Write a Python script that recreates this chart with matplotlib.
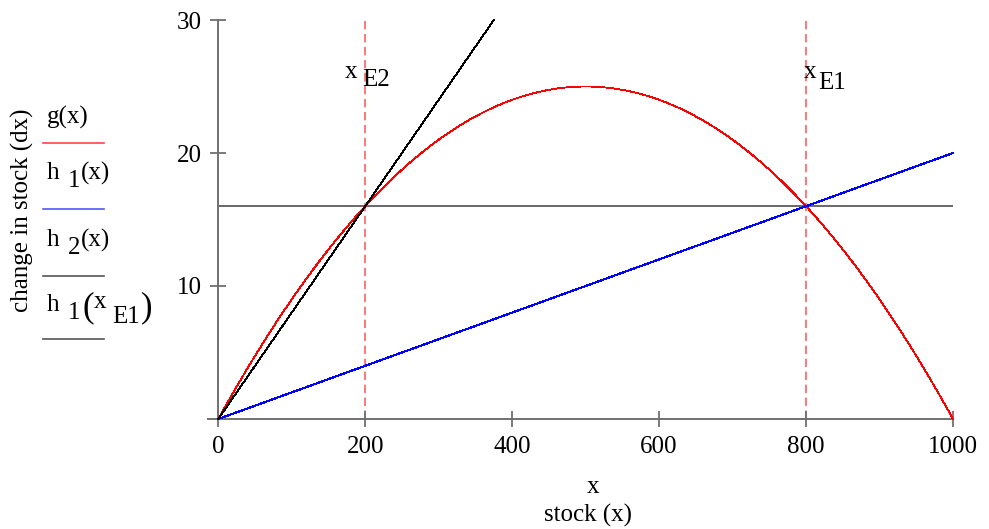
import numpy as np
import matplotlib
matplotlib.use("Agg")
import matplotlib.pyplot as plt

plt.rcParams["font.family"] = ["Liberation Serif", "DejaVu Serif"]

# Logistic growth g(x) = r*x*(1 - x/K) and proportional harvest h(x) = q*x
growth_rate = 0.1
capacity = 1000
harvest_rates = [0.02, 0.08]          # h1, h2
equilibria = [800, 200]               # x_E1, x_E2
x_ticks = [0, 200, 400, 600, 800, 1000]
y_ticks = [10, 20, 30]
y_top = 30

AXIS_GRAY = "#707070"
FS = 18

fig = plt.figure(figsize=(9.89, 5.29), dpi=100)
W, H = 989, 529
left_px, right_px, bot_px, top_px = 208, 953, 419, 20
ax = fig.add_axes([left_px / W, 1 - bot_px / H,
                   (right_px - left_px) / W, (bot_px - top_px) / H])
ax.set_xlim(-14, capacity)
ax.set_ylim(0, y_top)

x = np.linspace(0, capacity, 1001)
g = growth_rate * x * (1 - x / capacity)
h1 = harvest_rates[0] * x
x2 = np.linspace(0, y_top / harvest_rates[1], 400)
h2 = harvest_rates[1] * x2
h1_e1 = harvest_rates[0] * equilibria[0]

ax.plot(x, g, color="#ff0000", lw=0.6, antialiased=False, clip_on=False, zorder=3)
ax.plot(x, h1, color="#0000ff", lw=0.8, antialiased=False, clip_on=False, zorder=3)
ax.plot(x2, h2, color="#000000", lw=0.6, antialiased=False, clip_on=False, zorder=3)
ax.plot([0, capacity], [h1_e1, h1_e1], color="#404040", lw=1.1, zorder=2)

for xe in equilibria:
    ax.plot([xe, xe], [0, y_top], color="#ff5555", lw=1.1,
            dashes=(5.5, 3), zorder=1)

# axes in the Mathcad style: crossing ticks, gray lines
for s in ["top", "right"]:
    ax.spines[s].set_visible(False)
ax.spines["left"].set_position(("data", 0))
ax.spines["left"].set_bounds(0, y_top)
for s in ["left", "bottom"]:
    ax.spines[s].set_color(AXIS_GRAY)
    ax.spines[s].set_linewidth(1.4)
ax.set_xticks(x_ticks)
ax.set_yticks(y_ticks)
ax.tick_params(axis="both", direction="inout", length=12, width=1.3,
               color=AXIS_GRAY, labelsize=FS)
ax.tick_params(axis="x", pad=6)
ax.tick_params(axis="y", pad=6)

# subscripted labels at the equilibrium lines
ax.text(180, 26.1, "x", fontsize=FS, ha="center", va="center")
ax.text(196, 25.5, "E2", fontsize=FS, ha="left", va="center")
ax.text(806, 26.1, "x", fontsize=FS, ha="center", va="center")
ax.text(816, 25.3, "E1", fontsize=FS, ha="left", va="center")


def ftxt(px, py, s, **kw):
    fig.text(px / W, 1 - py / H, s, fontsize=kw.pop("fontsize", FS),
             va="center", ha=kw.pop("ha", "left"), **kw)


# axis titles
ftxt(593, 487, "x", ha="center")
ftxt(588, 515, "stock (x)", ha="center")
ftxt(22, 210, "change in stock (dx)", ha="center", rotation=90)

# legend: names above their line samples
ftxt(47, 117, "g(x)")
ftxt(47, 173, "h")
ftxt(68, 181, "1")
ftxt(81, 173, "(x)")
ftxt(47, 240, "h")
ftxt(68, 248, "2")
ftxt(81, 240, "(x)")
ftxt(47, 305, "h")
ftxt(68, 313, "1")
ftxt(82, 308, "(", fontsize=25)
ftxt(94, 302, "x")
ftxt(112, 317, "E1")
ftxt(141, 308, ")", fontsize=25)

legend_colors = ["#ff4444", "#5555ff", "#555555", "#555555"]
legend_y = [143, 209, 276, 339]
for c, yy in zip(legend_colors, legend_y):
    fig.add_artist(plt.Line2D([43 / W, 104 / W], [1 - yy / H, 1 - yy / H],
                              color=c, lw=1.2))

fig.savefig("out.png", dpi=100)
